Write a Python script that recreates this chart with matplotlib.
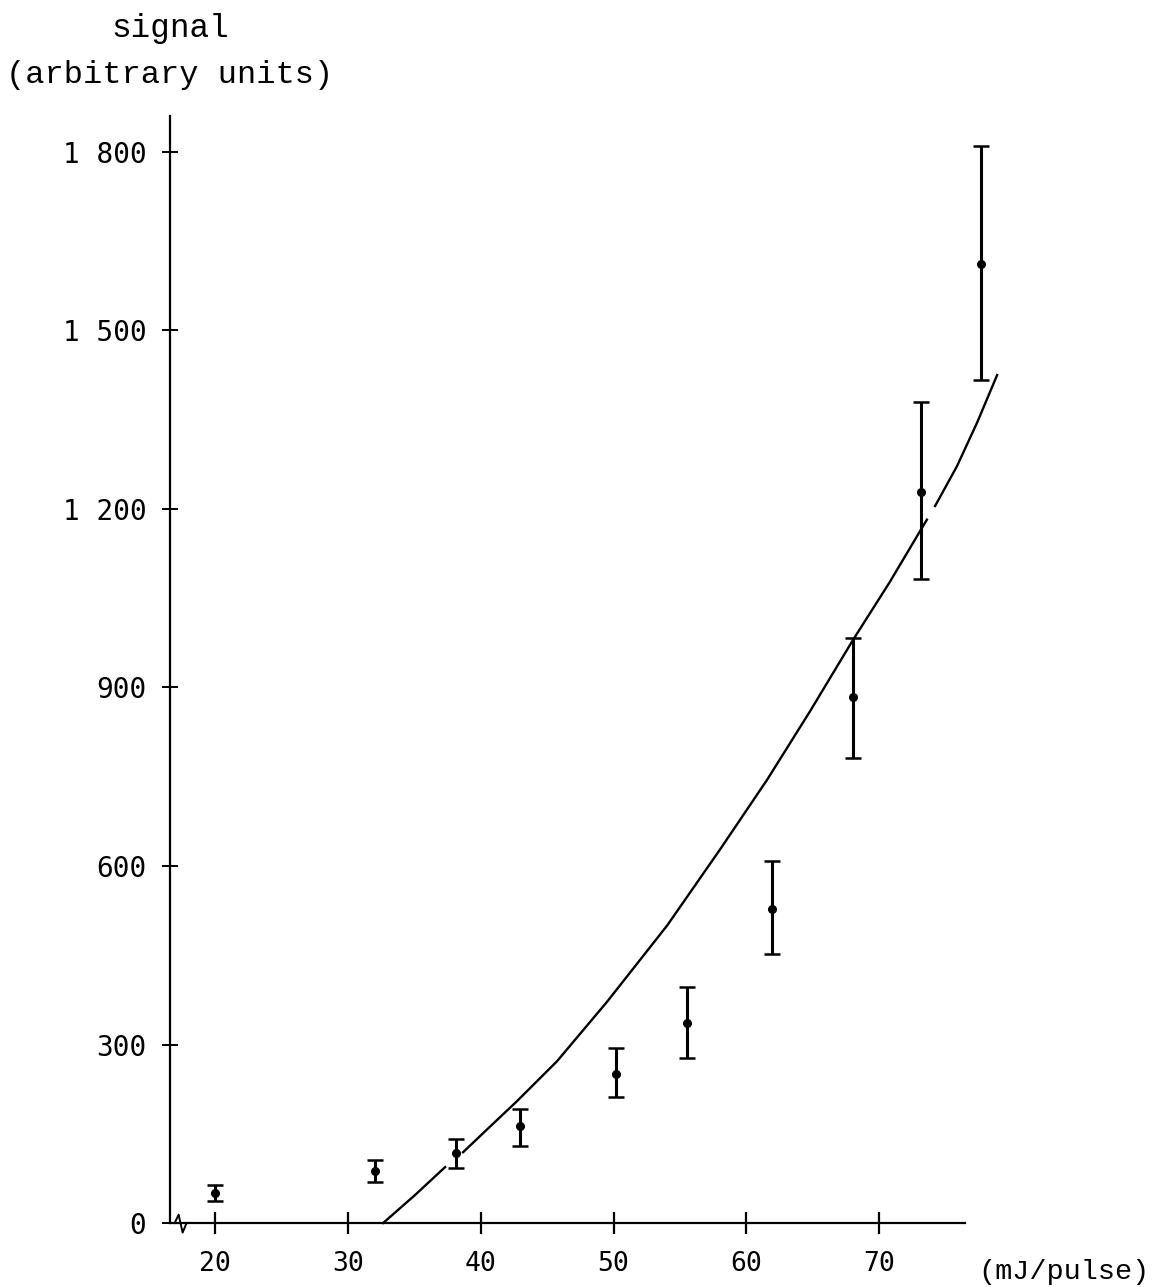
"""signal vs pulse energy with error bars"""
import numpy as np
import matplotlib
matplotlib.use("Agg")
import matplotlib.pyplot as plt

energy = [20.0, 32.05, 38.15, 42.97, 50.2, 55.54, 61.94, 68.04, 73.16, 77.68]
signal = [50, 87, 118, 163, 250, 336, 528, 884, 1229, 1612]
err_low = [13, 18, 26, 34, 38, 59, 76, 102, 147, 195]
err_high = [14, 19, 23, 29, 44, 61, 80, 99, 151, 198]

# fitted curve, sampled along the drawn line (nan = gap in the ink)
curve_x = [32.65, 35.0, 37.32, np.nan, 38.67, 40.7, 42.74, 45.75, 49.52,
           54.04, 58.03, 61.57, 64.8, 68.04, 70.8, 73.6, np.nan,
           74.22, 75.87, 77.4, 78.89]
curve_y = [0, 46, 94, np.nan, 119, 162, 205, 272, 372,
           500, 628, 745, 860, 980, 1077, 1182, np.nan,
           1205, 1272, 1346, 1425]

xticks = [20, 30, 40, 50, 60, 70]
yticks = [0, 300, 600, 900, 1200, 1500, 1800]
ytick_labels = ["0", "300", "600", "900", "1 200", "1 500", "1 800"]

text_font = "Liberation Mono"
num_font = "DejaVu Sans Mono"


def main():
    """main"""
    fig = plt.figure(figsize=(11.66, 12.87), dpi=100)
    ax = fig.add_axes([0.1458, 0.0497, 0.7277, 0.860])

    ax.set_xlim(16.6, 80.5)
    ax.set_ylim(0, 1860)

    # axes drawn as in the original: only left and bottom lines
    ax.spines["top"].set_visible(False)
    ax.spines["right"].set_visible(False)
    ax.spines["left"].set_linewidth(1.6)
    ax.spines["bottom"].set_linewidth(1.6)
    ax.spines["bottom"].set_bounds(16.6, 76.5)

    ax.set_xticks(xticks)
    ax.set_xticklabels([str(t) for t in xticks], family=num_font, fontsize=19)
    ax.set_yticks(yticks)
    ax.set_yticklabels(ytick_labels, family=num_font, fontsize=20)
    ax.tick_params(axis="x", direction="inout", length=16, width=1.6, pad=12)
    ax.tick_params(axis="y", direction="inout", length=12, width=1.4, pad=11)

    # axis break mark near the origin
    ax.plot([16.95, 17.25, 17.55, 17.85], [0, 14, -16, 0], color="black",
            lw=1.4, clip_on=False)

    ax.plot(curve_x, curve_y, color="black", lw=1.7, clip_on=False)

    ax.errorbar(energy, signal, yerr=[err_low, err_high], fmt="o",
                color="black", markersize=5.5, elinewidth=2.2, capsize=6,
                capthick=1.8, clip_on=False)

    fig.text(0.1458, 0.978, "signal", family=text_font, fontsize=23.5,
             ha="center", va="center")
    fig.text(0.1458, 0.942, "(arbitrary units)", family=text_font,
             fontsize=23, ha="center", va="center")
    fig.text(0.986, 0.0117, "(mJ/pulse)", family=text_font, fontsize=20.5,
             ha="right", va="center")

    fig.savefig("out.png", dpi=100)
    return 0


if __name__ == "__main__":
    main()
